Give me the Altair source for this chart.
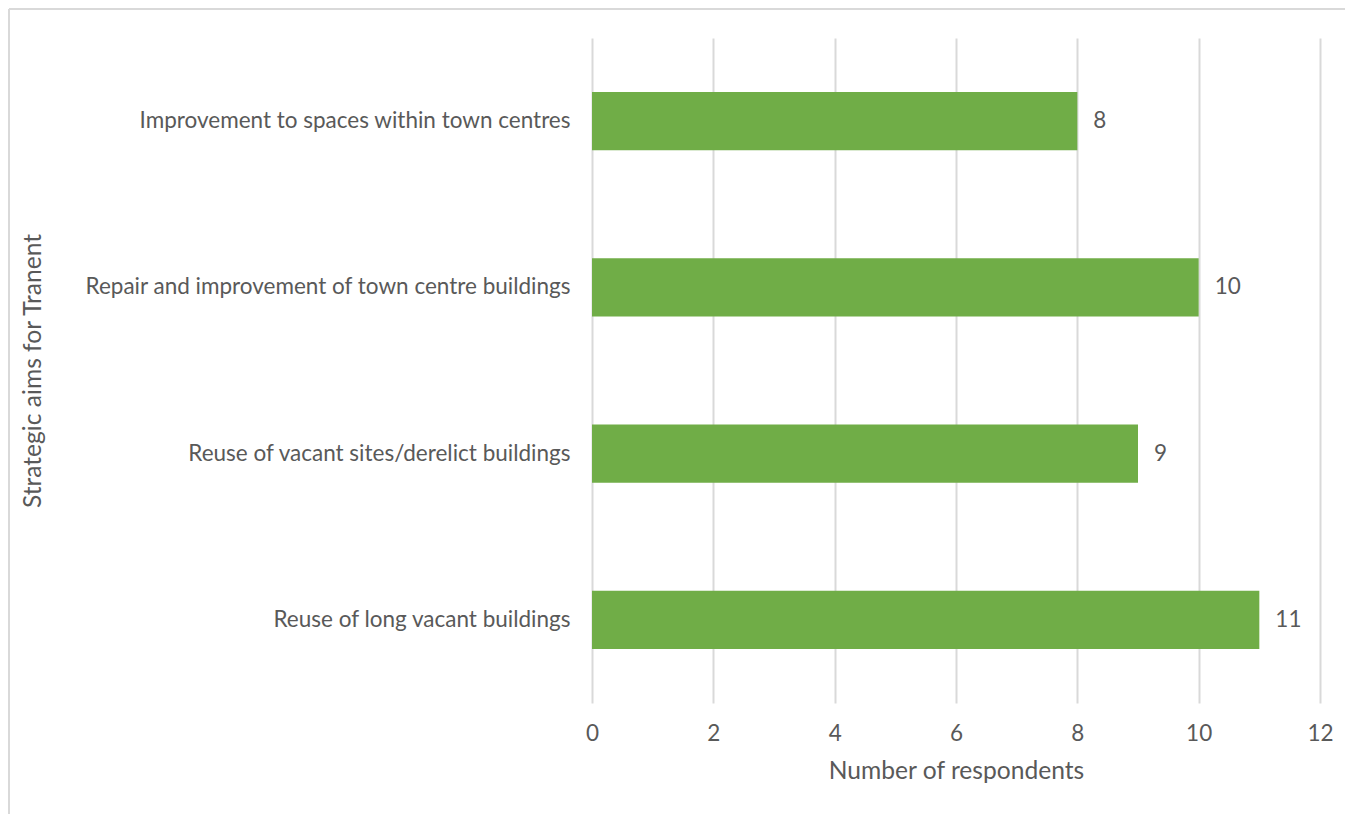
import altair as alt
import pandas as pd

categories = [
    "Improvement to spaces within town centres",
    "Repair and improvement of town centre buildings",
    "Reuse of vacant sites/derelict buildings",
    "Reuse of long vacant buildings",
]
values = [8, 10, 9, 11]
x_ticks = [0, 2, 4, 6, 8, 10, 12]

df = pd.DataFrame({"aim": categories, "count": values})

FONT = "Lato"
TEXT = "#595959"
LS = 22.5
TS = 24.6

y_enc = alt.Y(
    "aim:N",
    sort=None,
    title="Strategic aims for Tranent",
    scale=alt.Scale(paddingInner=0.65, paddingOuter=0.325),
    axis=alt.Axis(
        labelFont=FONT, labelFontSize=LS, labelColor=TEXT, labelPadding=22,
        labelLimit=600, ticks=False, domain=False, grid=False,
        titleFont=FONT, titleFontSize=TS, titleColor=TEXT, titleFontWeight="normal",
        titleX=-559, titleY=332.5, titleAlign="center", titleBaseline="middle",
        titleAngle=270,
    ),
)
x_enc = alt.X(
    "count:Q",
    title="Number of respondents",
    scale=alt.Scale(domain=[0, 12], nice=False),
    axis=alt.Axis(
        values=x_ticks, format="d", labelFont=FONT, labelFontSize=LS, labelColor=TEXT,
        labelPadding=19, labelFlush=False, ticks=False, domain=False, grid=True,
        gridColor="#D9D9D9", gridWidth=2,
        titleFont=FONT, titleFontSize=TS, titleColor=TEXT, titleFontWeight="normal",
        titlePadding=15,
    ),
)

bars = alt.Chart(df).mark_bar(color="#70AD47").encode(x=x_enc, y=y_enc)
labels = alt.Chart(df).mark_text(
    align="left", baseline="middle", dx=16, font=FONT, fontSize=LS, color=TEXT
).encode(x="count:Q", y=alt.Y("aim:N", sort=None), text="count:Q")

frame_top = alt.Chart(df).mark_rule(color="#D9D9D9", strokeWidth=2).encode(
    x=alt.value(-583), x2=alt.value(760), y=alt.value(-29)
)
frame_left = alt.Chart(df).mark_rule(color="#D9D9D9", strokeWidth=2).encode(
    x=alt.value(-583), y=alt.value(-29), y2=alt.value(780)
)

chart = alt.layer(frame_top, frame_left, bars, labels).properties(
    width=728, height=665,
    autosize=alt.AutoSizeParams(type="none"),
    padding={"left": 592, "top": 38, "right": 25, "bottom": 111},
).configure_view(stroke=None)

chart.save("out.html", embed_options={"renderer": "svg", "actions": False})
